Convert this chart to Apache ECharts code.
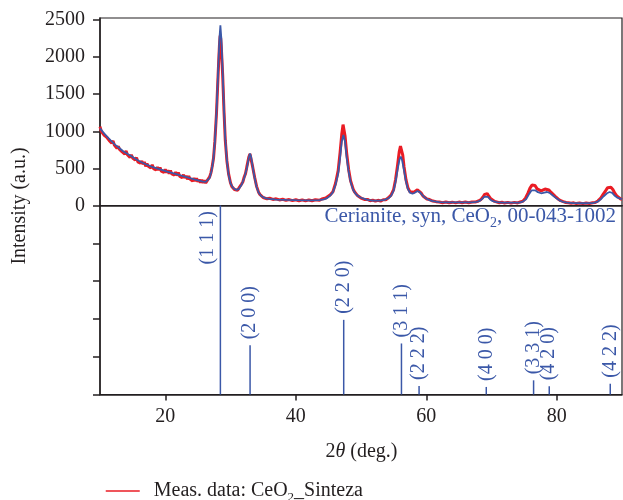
<!DOCTYPE html>
<html><head><meta charset="utf-8">
<script src="https://cdn.jsdelivr.net/npm/echarts@6/dist/echarts.min.js"></script>
<style>html,body{margin:0;padding:0;background:#fff}#c{width:623px;height:500px}</style>
</head><body><div id="c"></div>
<script>
const measured = [
[10.0,1062],[10.2,1000],[10.4,1011],[10.6,950],[10.8,975],[11.0,923],[11.2,945],[11.4,878],[11.6,890],[11.8,841],
[12.0,871],[12.2,814],[12.4,831],[12.6,771],[12.8,798],[13.0,756],[13.2,781],[13.4,722],[13.6,742],[13.8,693],
[14.0,736],[14.2,685],[14.4,705],[14.6,649],[14.8,681],[15.0,641],[15.2,665],[15.4,614],[15.6,646],[15.8,588],
[16.0,612],[16.2,570],[16.4,599],[16.6,557],[16.8,588],[17.0,528],[17.2,564],[17.4,530],[17.6,555],[17.8,506],
[18.0,550],[18.2,498],[18.4,524],[18.6,480],[18.8,518],[19.0,478],[19.2,513],[19.4,462],[19.6,487],[19.8,446],
[20.0,488],[20.2,447],[20.4,474],[20.6,429],[20.8,472],[21.0,425],[21.2,448],[21.4,411],[21.6,450],[21.8,403],
[22.0,445],[22.2,396],[22.4,421],[22.6,376],[22.8,415],[23.0,370],[23.2,399],[23.4,353],[23.6,395],[23.8,356],
[24.0,381],[24.2,328],[24.4,369],[24.6,330],[24.8,368],[25.0,320],[25.2,347],[25.4,309],[25.6,346],[25.8,306],
[26.0,338],[26.2,304],[26.4,332],[26.6,345],[26.8,385],[27.0,440],[27.2,530],[27.4,640],[27.6,860],[27.85,1240],
[28.1,1760],[28.3,2150],[28.42,2290],[28.5,2250],[28.6,2120],[28.8,1760],[29.0,1280],[29.2,880],[29.45,600],[29.7,430],
[30.0,305],[30.2,255],[30.4,245],[30.6,215],[30.9,222],[31.1,205],[31.3,238],[31.5,250],[31.7,290],[31.9,320],
[32.1,385],[32.3,430],[32.5,520],[32.8,650],[32.98,695],[33.15,670],[33.4,520],[33.7,380],[34.0,258],[34.3,180],
[34.5,150],[34.7,135],[35.0,108],[35.3,110],[35.6,90],[36.0,98],[36.5,82],[37.0,90],[37.5,75],[38.0,84],
[38.5,70],[39.0,80],[39.5,66],[40.0,78],[40.5,64],[41.0,76],[41.5,62],[42.0,75],[42.5,64],[43.0,78],
[43.6,70],[44.0,88],[44.3,82],[44.6,102],[44.9,108],[45.3,145],[45.7,185],[46.1,300],[46.5,470],[46.8,720],
[47.05,960],[47.25,1090],[47.35,1080],[47.55,940],[47.8,710],[48.1,490],[48.4,335],[48.8,220],[49.0,185],[49.2,160],
[49.5,130],[49.7,125],[50.0,100],[50.3,102],[50.6,80],[51.0,82],[51.4,64],[51.8,72],[52.2,58],[52.6,70],
[53.0,60],[53.4,78],[53.8,78],[54.2,105],[54.6,140],[55.0,215],[55.3,350],[55.6,540],[55.85,720],[56.05,800],
[56.2,790],[56.4,680],[56.6,520],[56.9,345],[57.2,235],[57.5,185],[57.8,175],[58.1,180],[58.4,200],[58.65,212],
[58.9,205],[59.2,170],[59.5,128],[59.8,112],[60.1,88],[60.5,80],[61.0,60],[61.5,52],[62.0,48],[62.5,38],
[63.0,46],[63.5,36],[64.0,45],[64.5,35],[65.0,46],[65.5,36],[66.0,47],[66.5,38],[67.0,48],[67.5,46],
[68.0,60],[68.4,82],[68.7,115],[68.95,150],[69.15,170],[69.35,160],[69.6,125],[69.9,90],[70.2,65],[70.5,55],
[70.8,50],[71.2,38],[71.6,45],[72.0,33],[72.5,42],[73.0,32],[73.5,42],[74.0,35],[74.4,48],[74.8,58],
[75.2,98],[75.6,170],[75.9,235],[76.2,275],[76.4,292],[76.65,270],[77.0,225],[77.3,205],[77.6,198],[77.9,215],
[78.2,222],[78.5,225],[78.8,210],[79.1,180],[79.4,155],[79.8,120],[80.2,88],[80.6,65],[81.0,52],[81.4,40],
[81.8,36],[82.2,30],[82.6,36],[83.0,26],[83.5,34],[84.0,25],[84.5,34],[85.0,27],[85.5,38],[85.9,40],
[86.3,62],[86.7,95],[87.1,150],[87.5,200],[87.8,240],[88.05,262],[88.3,245],[88.6,215],[88.9,165],[89.2,130],
[89.5,110],[89.8,88],[90.0,80]
];
// Fitted profile (blue)
const fitted = [
[10.0,1040],[10.5,985],[11.0,935],[11.6,880],[12.3,820],[13.0,772],[13.6,728],[14.3,690],[15.0,655],[15.6,620],
[16.2,590],[17.0,556],[17.8,528],[18.7,501],[19.5,480],[20.3,458],[21.3,434],[22.2,410],[23.0,390],[23.8,368],
[24.6,348],[25.3,333],[25.8,322],[26.2,318],[26.5,328],[26.8,370],[27.1,470],[27.35,600],[27.6,850],[27.85,1250],
[28.1,1800],[28.3,2250],[28.45,2430],[28.6,2250],[28.8,1800],[29.0,1300],[29.2,900],[29.45,600],[29.7,420],[30.0,300],
[30.4,235],[30.9,210],[31.3,225],[31.7,280],[32.1,370],[32.5,500],[32.8,640],[32.98,700],[33.15,660],[33.4,520],
[33.7,370],[34.0,250],[34.3,175],[34.7,128],[35.3,100],[36.0,88],[37.0,80],[38.5,75],[40.0,72],[42.0,70],
[43.6,72],[44.3,82],[44.8,100],[45.3,135],[45.7,180],[46.1,280],[46.5,430],[46.8,650],[47.05,860],[47.3,950],
[47.55,860],[47.8,650],[48.1,460],[48.4,320],[48.8,210],[49.2,155],[49.7,118],[50.3,95],[51.0,75],[51.8,66],
[52.8,66],[53.6,75],[54.2,98],[54.6,130],[55.0,200],[55.3,320],[55.6,480],[55.9,620],[56.1,658],[56.3,610],
[56.6,470],[56.9,320],[57.2,220],[57.5,172],[57.9,158],[58.3,175],[58.65,195],[59.0,180],[59.4,140],[59.8,105],
[60.3,80],[61.0,58],[62.0,45],[63.0,42],[65.0,42],[67.0,43],[67.7,48],[68.2,62],[68.6,90],[68.9,118],
[69.15,130],[69.45,115],[69.8,82],[70.2,58],[70.8,45],[71.6,40],[73.0,38],[74.3,40],[74.8,52],[75.3,85],
[75.8,160],[76.15,205],[76.4,220],[76.7,205],[77.1,180],[77.6,165],[78.1,175],[78.5,182],[78.9,170],[79.4,135],
[79.9,100],[80.4,70],[80.9,50],[81.6,38],[82.5,32],[84.0,30],[85.5,32],[86.2,48],[86.7,80],[87.2,125],
[87.7,165],[88.1,182],[88.5,170],[88.9,130],[89.3,105],[89.6,95],[90.0,85]
];
// Reference stick pattern (Cerianite, 00-043-1002)
const refPos = [28.45, 33.0, 47.35, 56.2, 58.9, 69.2, 76.45, 78.85, 88.2];
const refInt = [100, 26, 39.5, 27, 4.5, 4, 7.5, 4.3, 5.7];
const refHkl = ['(1 1 1)', '(2 0 0)', '(2 2 0)', '(3 1 1)', '(2 2 2)', '(4 0 0)', '(3 3 1)', '(4 2 0)', '(4 2 2)'];
const xTicks = [20, 40, 60, 80];
const yTicks = [0, 500, 1000, 1500, 2000, 2500];

const FF = '"Liberation Serif", "Times New Roman", serif';
const BLUE = '#3b58a8';
const RED = '#ea1c24';
const INK = '#231f20';

const chart = echarts.init(document.getElementById('c'));
const axisLine = {show: true, lineStyle: {color: INK, width: 1.5}};
chart.setOption({
  animation: false,
  backgroundColor: '#fff',
  grid: [
    {left: 100, top: 18, width: 522, height: 187.5, show: true, borderColor: INK, borderWidth: 1.2, containLabel: false},
    {left: 100, top: 205.5, width: 522, height: 189, show: true, borderColor: INK, borderWidth: 1.2, containLabel: false}
  ],
  xAxis: [
    {gridIndex: 0, type: 'value', min: 10, max: 90, axisLine: axisLine, axisTick: {show: false}, axisLabel: {show: false}, splitLine: {show: false}},
    {gridIndex: 1, type: 'value', min: 10, max: 90, axisLine: axisLine,
     axisTick: {show: true, inside: false, length: 6, customValues: xTicks, lineStyle: {color: INK, width: 1.5}},
     axisLabel: {show: true, customValues: xTicks, margin: 12, fontSize: 20, fontFamily: FF, color: INK, formatter: v => String(v)},
     splitLine: {show: false}}
  ],
  yAxis: [
    {gridIndex: 0, type: 'value', min: 0, max: 2527, axisLine: axisLine,
     axisTick: {show: true, inside: false, length: 7, customValues: yTicks, lineStyle: {color: INK, width: 1.5}},
     axisLabel: {show: true, customValues: yTicks, margin: 15, fontSize: 20, fontFamily: FF, color: INK, formatter: v => String(v)},
     splitLine: {show: false}},
    {gridIndex: 1, type: 'value', min: 0, max: 100, interval: 20, axisLine: axisLine,
     axisTick: {show: true, inside: false, length: 7, lineStyle: {color: INK, width: 1.5}},
     axisLabel: {show: false}, splitLine: {show: false}}
  ],
  legend: {
    left: 100, top: 476, itemWidth: 34, itemHeight: 14, selectedMode: false,
    data: ['Meas. data: CeO2_Sinteza'],
    itemStyle: {opacity: 0, borderWidth: 0},
    lineStyle: {width: 1.5, color: RED},
    formatter: () => '{a|Meas. data: CeO}{s|2}{a|_Sinteza}',
    textStyle: {rich: {
      a: {fontSize: 20, fontFamily: FF, color: INK},
      s: {fontSize: 13, fontFamily: FF, color: INK, padding: [14, 0, 0, 0]}
    }, padding: [0, 0, 0, 9]}
  },
  graphic: [
    {type: 'text', x: 616, y: 216, z: 10, style: {
      text: '{a|Cerianite, syn, CeO}{s|2}{a|, 00-043-1002}', align: 'right', verticalAlign: 'middle',
      rich: {a: {fontSize: 21, fontFamily: FF, fill: BLUE, color: BLUE}, s: {fontSize: 14, fontFamily: FF, fill: BLUE, color: BLUE, padding: [14, 0, 0, 0]}}
    }},
    {type: 'text', x: 361.5, y: 452, style: {
      text: '{a|2}{i|θ}{a| (deg.)}', align: 'center', verticalAlign: 'middle',
      rich: {a: {fontSize: 20, fontFamily: FF, fill: INK, color: INK}, i: {fontSize: 20, fontFamily: FF, fontStyle: 'italic', fill: INK, color: INK}}
    }},
    {type: 'text', x: 20, y: 206, rotation: Math.PI / 2, style: {
      text: 'Intensity (a.u.)', align: 'center', verticalAlign: 'middle',
      font: '20px ' + FF, fill: INK
    }}
  ],
  series: [
    {name: 'Meas. data: CeO2_Sinteza', type: 'line', xAxisIndex: 0, yAxisIndex: 0, data: measured,
     showSymbol: false, symbol: 'none', lineStyle: {color: RED, width: 3}, itemStyle: {color: RED}, z: 2},
    {name: 'fit', type: 'line', xAxisIndex: 0, yAxisIndex: 0, data: fitted,
     showSymbol: false, symbol: 'none', lineStyle: {color: BLUE, width: 1.8}, itemStyle: {color: BLUE}, z: 3},
    {name: 'ref', type: 'custom', xAxisIndex: 1, yAxisIndex: 1, z: 4, clip: false,
     data: refPos.map((p, i) => [p, refInt[i]]),
     renderItem: function (params, api) {
       const x = api.value(0), h = api.value(1);
       const p0 = api.coord([x, 0]), p1 = api.coord([x, h]);
       const full = h >= 99;
       const lx = full ? p1[0] - 13 : p1[0];
       const ly = full ? p1[1] + 59 : p1[1] - 6;
       return {type: 'group', children: [
         {type: 'line', shape: {x1: p0[0], y1: p0[1], x2: p1[0], y2: p1[1]}, style: {stroke: BLUE, lineWidth: 1.5}},
         {type: 'text', x: lx, y: ly, rotation: Math.PI / 2, style: {
           text: refHkl[params.dataIndex], fill: BLUE, font: '20px ' + FF, align: 'left', verticalAlign: 'middle'}}
       ]};
     }}
  ]
});
</script></body></html>
